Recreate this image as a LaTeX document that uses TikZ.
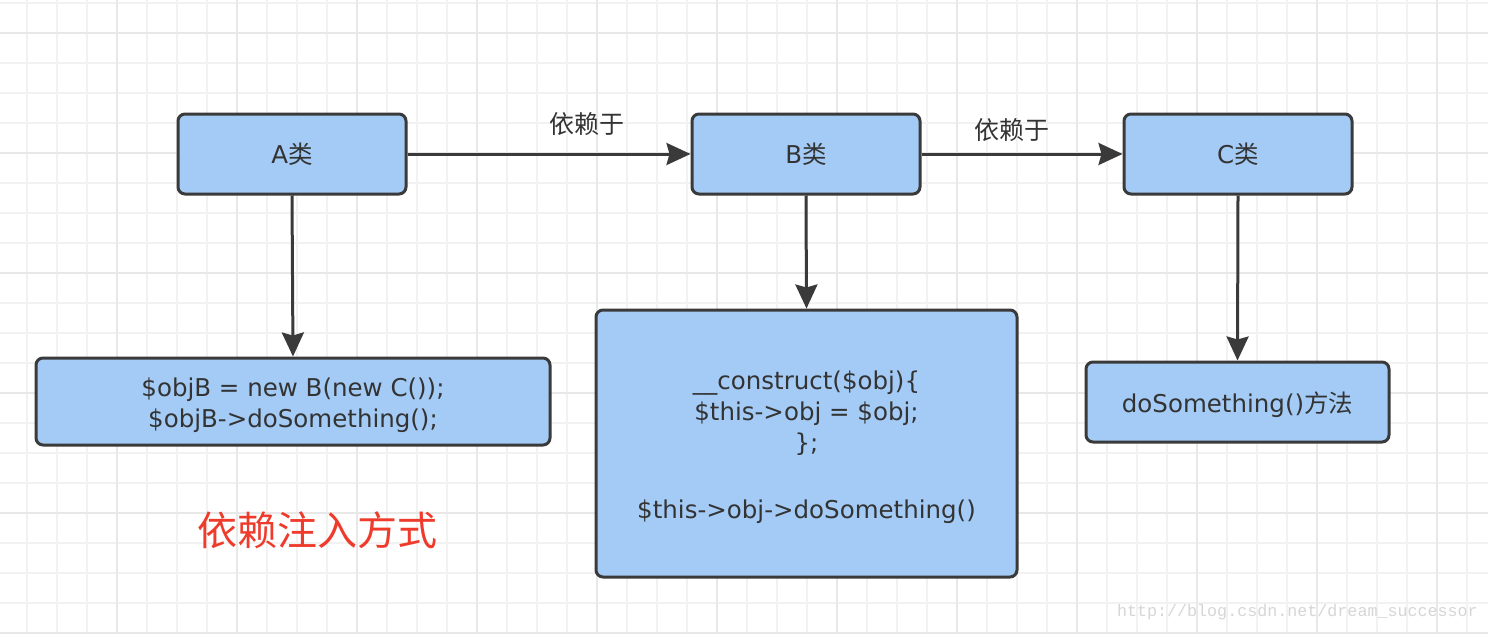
\documentclass[tikz,border=0pt]{standalone}
\usepackage{fontspec}
\setmainfont{DejaVu Sans}
\newfontfamily\cjk{Noto Sans CJK SC}
\newfontfamily\wmfont{Liberation Mono}
\usetikzlibrary{arrows.meta}
\definecolor{boxfill}{HTML}{A3CBF6}
\definecolor{boxline}{HTML}{3A3A3A}
\definecolor{txt}{HTML}{333333}
\definecolor{gridminor}{HTML}{F2F2F2}
\definecolor{gridmajor}{HTML}{E8E8E8}
\definecolor{redtxt}{HTML}{EE3B2B}
\definecolor{wm}{HTML}{D6D6D6}
\tikzset{
  cls/.style={draw=boxline, fill=boxfill, line width=3pt, rounded corners=7pt,
    inner sep=0pt, align=center, text=txt,
    font=\fontsize{24.5}{31}\selectfont},
  conn/.style={draw=boxline, line width=3pt,
    -{Stealth[length=24pt,width=22pt,inset=3pt]}},
  lbl/.style={text=txt, font=\cjk\fontsize{25}{30}\selectfont, inner sep=0pt}
}
\newcommand{\topstrut}{\rule{0pt}{26pt}}
\begin{document}
\begin{tikzpicture}[x=1pt,y=-1pt]
\useasboundingbox (0,0) rectangle (1488,634);
\fill[white] (0,0) rectangle (1488,634);
% grid
\foreach \x in {27,57,...,1490} \draw[gridminor,line width=2pt] (\x,0) -- (\x,634);
\foreach \y in {3,33,...,640} \draw[gridminor,line width=2pt] (0,\y) -- (1488,\y);
\foreach \x in {117,237,...,1490} \draw[gridmajor,line width=2pt] (\x,0) -- (\x,634);
\foreach \y in {33,153,...,640} \draw[gridmajor,line width=2pt] (0,\y) -- (1488,\y);
% boxes
\node[cls, minimum width=228pt, minimum height=80pt] (A) at (292,154) {A{\cjk 类}};
\node[cls, minimum width=228pt, minimum height=80pt] (B) at (806,154) {B{\cjk 类}};
\node[cls, minimum width=228pt, minimum height=80pt] (C) at (1238,154) {C{\cjk 类}};
\node[cls, minimum width=514pt, minimum height=87pt] (A1) at (293,401.5)
  {\topstrut\$objB = new B(new C());\\\$objB-\textgreater doSomething();};
\node[cls, minimum width=421pt, minimum height=267pt] (B1) at (806.5,443.5)
  {\topstrut\_\_construct(\$obj)\{\\\$this-\textgreater obj = \$obj;\\\};\\[36pt]\$this-\textgreater obj-\textgreater doSomething()};
\node[cls, minimum width=303pt, minimum height=80pt] (C1) at (1237.5,402)
  {\topstrut doSomething(){\cjk 方法}};
% connectors
\draw[conn] (A.east) -- (B.west);
\draw[conn] (B.east) -- (C.west);
\draw[conn] (A.south) -- (A1.north);
\draw[conn] (B.south) -- (B1.north);
\draw[conn] (C.south) -- (C1.north);
% labels
\node[lbl] (l1) at (587,124) {依赖于};
\node[lbl] (l2) at (1012,130) {依赖于};
\node[text=redtxt, font=\cjk\fontsize{40}{48}\selectfont, inner sep=0pt] (title) at (317,530) {依赖注入方式};
\node[text=wm, font=\wmfont\fontsize{16.7}{20}\selectfont, inner sep=0pt, anchor=east] (wmk) at (1478,612) {http://blog.csdn.net/dream\_successor};
\end{tikzpicture}
\end{document}
